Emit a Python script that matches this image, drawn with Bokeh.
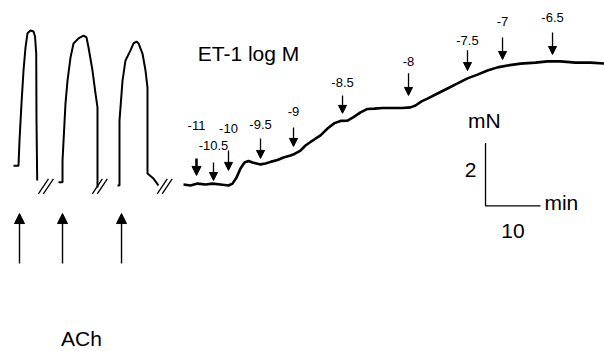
from bokeh.plotting import figure
from bokeh.models import Range1d, Arrow, NormalHead, ColumnDataSource
from bokeh.core.properties import value
from bokeh.embed import file_html
from bokeh.resources import INLINE

# ---------------- data (time in min, tension in mN) ----------------
# ACh contractions (three separate segments)
ach1_t = [0.91, 1.82, 2.00, 2.36, 2.73, 3.09, 3.45, 4.00, 4.55, 4.82, 5.04, 5.09, 5.22]
ach1_f = [0.63, 0.63, 1.43, 2.60, 3.65, 4.38, 4.83, 4.92, 4.89, 4.73, 4.19, 2.06, 0.16]
ach2_t = [9.09, 9.82, 9.82, 10.36, 10.73, 11.27, 11.82, 12.73, 13.64, 14.18, 14.55, 15.27, 15.82, 16.18, 16.18]
ach2_f = [0.10, 0.10, 0.79, 2.60, 3.33, 4.06, 4.51, 4.67, 4.76, 4.70, 4.38, 3.65, 2.92, 2.48, -0.06]
ach3_t = [19.82, 20.18, 20.18, 20.73, 21.27, 22.18, 22.73, 23.27, 23.64, 24.36, 24.91, 25.27, 25.27, 26.36, 27.27]
ach3_f = [0.00, 0.00, 2.06, 3.33, 3.97, 4.29, 4.51, 4.57, 4.51, 4.19, 3.65, 3.11, 0.38, 0.22, 0.00]

# ET-1 cumulative concentration-response trace
et_t = [31.82, 33.09, 34.36, 35.82, 37.09, 38.55, 40.00, 40.73, 41.45, 42.18, 42.91, 43.64,
        44.36, 45.09, 45.82, 46.73, 47.64, 48.91, 50.00, 51.27, 52.00, 53.09, 54.00, 54.91,
        55.82, 56.73, 58.00, 59.27, 60.36, 61.64, 62.73, 64.00, 65.27, 66.55, 68.00, 69.82,
        71.64, 73.09, 74.00, 75.09, 76.18, 78.00, 79.82, 81.64, 83.45, 85.27, 87.09, 88.91,
        90.73, 93.09, 95.82, 98.00, 100.36, 103.09, 105.82, 108.36]
et_f = [0.03, 0.00, 0.06, 0.03, 0.06, 0.03, 0.00, 0.06, 0.25, 0.54, 0.73, 0.78,
        0.73, 0.70, 0.67, 0.70, 0.75, 0.81, 0.89, 0.95, 1.00, 1.11, 1.27, 1.38,
        1.49, 1.59, 1.81, 1.98, 2.05, 2.06, 2.17, 2.32, 2.43, 2.44, 2.46, 2.46,
        2.46, 2.48, 2.54, 2.67, 2.76, 2.92, 3.08, 3.24, 3.40, 3.52, 3.65, 3.75,
        3.81, 3.87, 3.90, 3.94, 3.94, 3.90, 3.90, 3.87]

# ET-1 additions (log M) and times
dose_labels = ["-11", "-10.5", "-10", "-9.5", "-9", "-8.5", "-8", "-7.5", "-7", "-6.5"]
dose_t = [34.18, 37.27, 40.00, 45.82, 51.82, 60.73, 72.73, 83.45, 89.82, 98.91]

# ACh additions and breaks in recording
ach_t = [2.00, 9.82, 20.55]
break_t = [6.80, 16.60, 28.40]

# scale bar
bar_mN = 2
bar_min = 10

# ---------------- layout helpers (annotation placement, mN) ----------------
arrow_tip = [0.32, 0.16, 0.48, 0.86, 1.24, 2.29, 2.86, 3.65, 4.00, 4.16]
arrow_top = [0.86, 0.73, 1.11, 1.49, 1.84, 2.86, 3.56, 4.29, 4.70, 4.86]
label_y = [1.90, 1.27, 1.81, 1.94, 2.35, 3.27, 3.94, 4.60, 5.21, 5.33]

FONT = value("Liberation Sans")

p = figure(width=604, height=351, x_range=Range1d(-1.455, 108.36), y_range=Range1d(-5.27, 5.873),
           output_backend="svg", toolbar_location=None, min_border=0,
           x_axis_location=None, y_axis_location=None)
p.grid.visible = False
p.outline_line_color = None
p.background_fill_color = "white"

# traces
for tt, ff in [(ach1_t, ach1_f), (ach2_t, ach2_f), (ach3_t, ach3_f)]:
    p.line(tt, ff, line_color="black", line_width=2)
p.line(et_t, et_f, line_color="black", line_width=2.6)

# break marks //
for b in break_t:
    p.scatter([b - 0.45, b + 0.45], [-0.03, -0.03], marker="dash", size=18, angle=56,
              angle_units="deg", line_color="black", line_width=1.3)

# dose arrows
for i, t in enumerate(dose_t):
    w = 2.6 if i == 0 else 1.3
    p.add_layout(Arrow(end=NormalHead(size=8 if i else 9, fill_color="black", line_color="black"),
                       x_start=t, y_start=arrow_top[i], x_end=t, y_end=arrow_tip[i],
                       line_color="black", line_width=w))
src = ColumnDataSource(dict(x=dose_t, y=label_y, t=dose_labels))
p.text(x="x", y="y", text="t", source=src, text_font=FONT, text_font_size="13px",
       text_align="center", text_baseline="middle", text_color="black")

# ACh arrows
for t in ach_t:
    p.add_layout(Arrow(end=NormalHead(size=10, fill_color="black", line_color="black"),
                       x_start=t, y_start=-2.48, x_end=t, y_end=-0.89,
                       line_color="black", line_width=1.4))

# scale bar
x0, y0 = 86.73, -0.65
p.line([x0, x0, x0 + bar_min], [y0 + bar_mN, y0, y0], line_color="black", line_width=1.3)

txt = dict(text_font=FONT, text_color="black", text_baseline="middle")
p.text(x=[x0 - 0.2], y=[2.06], text=["mN"], text_font_size="21px", text_align="center", **txt)
p.text(x=[x0 - 2.7], y=[0.48], text=[str(bar_mN)], text_font_size="21px", text_align="center", **txt)
p.text(x=[x0 + bar_min + 0.7], y=[y0 + 0.1], text=["min"], text_font_size="21px", text_align="left", **txt)
p.text(x=[x0 + bar_min / 2], y=[-1.46], text=[str(bar_min)], text_font_size="21px", text_align="center", **txt)
p.text(x=[34.4], y=[4.19], text=["ET-1 log M"], text_font_size="21px", text_align="left", **txt)
p.text(x=[13.27], y=[-4.86], text=["ACh"], text_font_size="21px", text_align="center", **txt)

open("out.html", "w").write(file_html(p, INLINE))
